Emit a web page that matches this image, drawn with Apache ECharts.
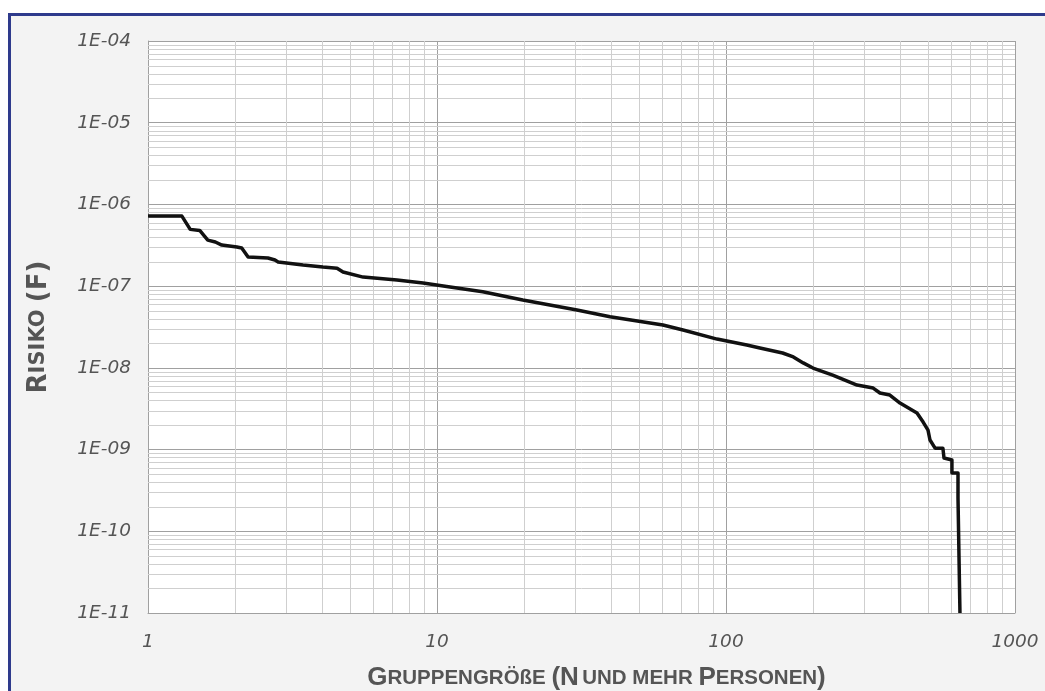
<!DOCTYPE html>
<html>
<head>
<meta charset="utf-8">
<script src="https://cdn.jsdelivr.net/npm/echarts@6/dist/echarts.min.js"></script>
<style>
html,body{margin:0;padding:0;background:#fff;}
#chart{width:1045px;height:691px;}
</style>
</head>
<body>
<div id="chart"></div>
<script>
// Data (group size N vs. risk F)
const groupSize = [1, 1.31, 1.40, 1.51, 1.61, 1.71, 1.80, 2.03, 2.11, 2.22, 2.60, 2.75, 2.82, 3.44, 4.03, 4.51, 4.73, 5.55, 7.27, 8.95, 11.1, 14.4, 19.8, 30.5, 39.7, 60.5, 71.0, 93.1, 118, 131, 157, 171, 185, 200, 234, 284, 323, 341, 369, 400, 458, 481, 500, 508, 529, 563, 568, 605, 605, 635, 635, 645, 645];
const risk = [7.2e-7, 7.2e-7, 4.95e-7, 4.8e-7, 3.66e-7, 3.47e-7, 3.18e-7, 3.01e-7, 2.93e-7, 2.27e-7, 2.21e-7, 2.09e-7, 1.98e-7, 1.81e-7, 1.71e-7, 1.66e-7, 1.49e-7, 1.29e-7, 1.19e-7, 1.09e-7, 9.75e-8, 8.55e-8, 6.76e-8, 5.10e-8, 4.22e-8, 3.34e-8, 2.90e-8, 2.25e-8, 1.90e-8, 1.75e-8, 1.52e-8, 1.36e-8, 1.15e-8, 9.95e-9, 8.17e-9, 6.16e-9, 5.66e-9, 4.92e-9, 4.65e-9, 3.71e-9, 2.80e-9, 2.17e-9, 1.73e-9, 1.31e-9, 1.04e-9, 1.04e-9, 7.87e-10, 7.45e-10, 5.15e-10, 5.15e-10, 2.55e-10, 2.55e-10, 1e-11];
const xDecades = [1, 10, 100, 1000];
const yDecades = [1e-11, 1e-10, 1e-9, 1e-8, 1e-7, 1e-6, 1e-5, 1e-4];
const minorSteps = [2, 3, 4, 5, 6, 7, 8, 9];

const X_MIN = xDecades[0], X_MAX = xDecades[xDecades.length - 1];
const Y_MIN = yDecades[0], Y_MAX = yDecades[yDecades.length - 1];

const xMinor = [];
xDecades.slice(0, -1).forEach(d => minorSteps.forEach(m => xMinor.push(d * m)));
const yMinor = [];
yDecades.slice(0, -1).forEach(d => minorSteps.forEach(m => yMinor.push(d * m)));

const minorColor = '#cfcfcf';
function crisp(v) { return Math.round(v) + 0.5; }

const chart = echarts.init(document.getElementById('chart'));
const grey = '#555';
chart.setOption({
  backgroundColor: '#ffffff',
  animation: false,
  graphic: [
    {type: 'rect', z: -10, silent: true,
     shape: {x: 9.5, y: 14.5, width: 1100, height: 700},
     style: {fill: '#f3f3f3', stroke: '#2e3a8c', lineWidth: 3}}
  ],
  grid: {left: 148, right: 30, top: 41, bottom: 78, backgroundColor: '#ffffff', show: true, borderWidth: 0,
         containLabel: false, outerBoundsMode: 'none'},
  xAxis: {
    type: 'log', logBase: 10, min: X_MIN, max: X_MAX,
    axisLine: {show: true, lineStyle: {color: '#a0a0a0', width: 1}},
    axisTick: {show: false},
    splitLine: {show: true, lineStyle: {color: '#a0a0a0', width: 1}},
    axisLabel: {color: grey, fontFamily: 'DejaVu Sans', fontStyle: 'italic', fontSize: 18.5, margin: 20,
      formatter: v => String(Math.round(v))},
    name: '{b|G}{s|RUPPENGRÖßE }{b|(N} {s|UND MEHR }{b|P}{s|ERSONEN}{b|)}',
    nameLocation: 'middle', nameGap: 52,
    nameTextStyle: {
      padding: [0, 0, 0, 30],
      rich: {
        b: {fontFamily: 'Liberation Sans Narrow, Liberation Sans', fontWeight: 'bold', fontSize: 26, color: grey},
        s: {fontFamily: 'Liberation Sans Narrow, Liberation Sans', fontWeight: 'bold', fontSize: 20.5, color: grey}
      }
    }
  },
  yAxis: {
    type: 'log', logBase: 10, min: Y_MIN, max: Y_MAX,
    axisLine: {show: true, lineStyle: {color: '#a0a0a0', width: 1}},
    axisTick: {show: false},
    splitLine: {show: true, lineStyle: {color: '#a0a0a0', width: 1}},
    axisLabel: {color: grey, fontFamily: 'DejaVu Sans', fontStyle: 'italic', fontSize: 18.5, margin: 17,
      formatter: v => {
        const e = Math.round(Math.log10(v));
        const a = Math.abs(e);
        return '1E' + (e < 0 ? '-' : '+') + (a < 10 ? '0' + a : a);
      }},
    name: '{b|R}{s|ISIKO }{b|(F)}',
    nameLocation: 'middle', nameGap: 96, nameRotate: 90,
    nameTextStyle: {
      rich: {
        b: {fontFamily: 'DejaVu Sans', fontWeight: 'bold', fontSize: 26, color: grey},
        s: {fontFamily: 'DejaVu Sans', fontWeight: 'bold', fontSize: 21, color: grey}
      }
    }
  },
  series: [
    {
      type: 'custom', name: 'xMinor', silent: true, z: 1,
      data: xMinor.map(v => [v, Y_MIN]),
      encode: {x: 0, y: 1},
      renderItem: (params, api) => {
        const v = api.value(0);
        const p1 = api.coord([v, Y_MIN]);
        const p2 = api.coord([v, Y_MAX]);
        const x = crisp(p1[0]);
        return {type: 'line', shape: {x1: x, y1: p1[1], x2: x, y2: p2[1]},
          style: {stroke: minorColor, lineWidth: 1}};
      }
    },
    {
      type: 'custom', name: 'yMinor', silent: true, z: 1,
      data: yMinor.map(v => [X_MIN, v]),
      encode: {x: 0, y: 1},
      renderItem: (params, api) => {
        const v = api.value(1);
        const p1 = api.coord([X_MIN, v]);
        const p2 = api.coord([X_MAX, v]);
        const y = crisp(p1[1]);
        return {type: 'line', shape: {x1: p1[0], y1: y, x2: p2[0], y2: y},
          style: {stroke: minorColor, lineWidth: 1}};
      }
    },
    {
      type: 'line', name: 'Risiko', z: 5,
      data: groupSize.map((x, i) => [x, risk[i]]),
      showSymbol: false, symbol: 'none',
      lineStyle: {color: '#111', width: 3.5, join: 'round'}
    }
  ]
});
</script>
</body>
</html>
